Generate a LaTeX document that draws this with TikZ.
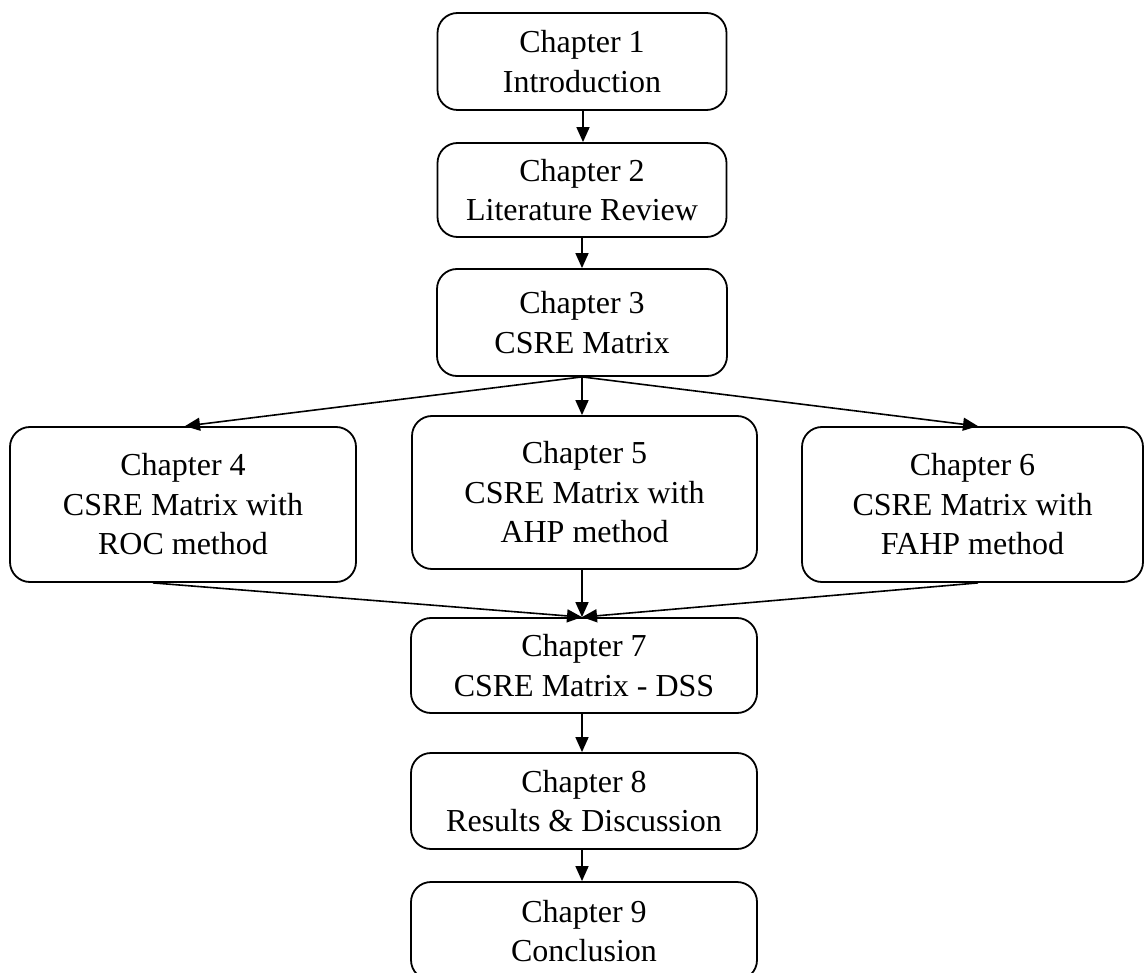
\documentclass[tikz,border=0pt]{standalone}
\usepackage{fontspec}
\setmainfont{Liberation Serif}
\usetikzlibrary{arrows.meta,calc}

\tikzset{
  chap/.style={draw, line width=1.8pt, rounded corners=20pt, align=center,
    inner sep=0pt, font=\fontsize{32}{39.5}\selectfont},
  flow/.style={line width=1.6pt, -{Triangle[length=15pt,width=13pt]}}
}

\begin{document}
\begin{tikzpicture}[x=1pt,y=-1pt]
  \useasboundingbox (0,0) rectangle (1146,973);
  \clip (0,0) rectangle (1146,973);

  % chapter boxes
  \node[chap, minimum width=289pt, minimum height=97pt]  (c1) at (582,61.5)   {Chapter 1\\Introduction};
  \node[chap, minimum width=289pt, minimum height=94pt]  (c2) at (582,190)    {Chapter 2\\Literature Review};
  \node[chap, minimum width=290pt, minimum height=107pt] (c3) at (582,322.5)  {Chapter 3\\CSRE Matrix};
  \node[chap, minimum width=346pt, minimum height=155pt] (c4) at (183,504.5)  {Chapter 4\\CSRE Matrix with\\ROC method};
  \node[chap, minimum width=345pt, minimum height=153pt] (c5) at (584.5,492.5){Chapter 5\\CSRE Matrix with\\AHP method};
  \node[chap, minimum width=341pt, minimum height=155pt] (c6) at (972.5,504.5){Chapter 6\\CSRE Matrix with\\FAHP method};
  \node[chap, minimum width=346pt, minimum height=95pt]  (c7) at (584,665.5)  {Chapter 7\\CSRE Matrix - DSS};
  \node[chap, minimum width=346pt, minimum height=96pt]  (c8) at (584,801)    {Chapter 8\\Results \& Discussion};
  \node[chap, minimum width=346pt, minimum height=98pt, text depth=0pt] (c9) at (584,931) {Chapter 9\\Conclusion};

  % sequential links
  \draw[flow] ([xshift=1pt]c1.south) -- ([xshift=1pt]c2.north);
  \draw[flow] (c2.south) -- (c3.north);

  % branching from chapter 3
  \draw[flow] (c3.south) -- ([xshift=2pt]c4.north);
  \draw[flow] (c3.south) -- (c3.south |- c5.north);
  \draw[flow] (c3.south) -- ([xshift=5.5pt]c6.north);

  % merging into chapter 7
  \coordinate (m) at ([xshift=-2pt]c7.north);
  \draw[flow] ([xshift=-30pt]c4.south) -- (m);
  \draw[flow] (c5.south -| m) -- (m);
  \draw[flow] ([xshift=5.5pt]c6.south) -- (m);

  \draw[flow] ([xshift=-2pt]c7.south) -- ([xshift=-2pt]c8.north);
  \draw[flow] ([xshift=-2pt]c8.south) -- ([xshift=-2pt]c9.north);
\end{tikzpicture}
\end{document}
